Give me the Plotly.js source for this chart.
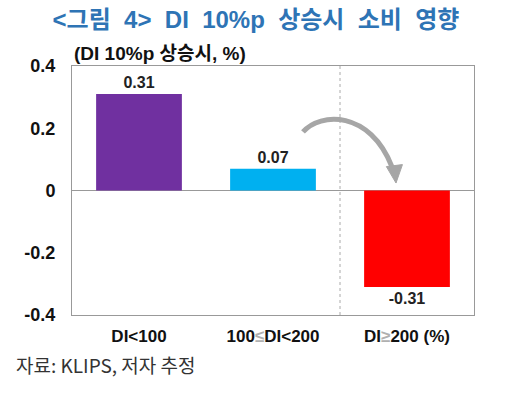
<!DOCTYPE html>
<html>
<head>
<meta charset="utf-8">
<script src="https://cdn.plot.ly/plotly-3.0.1.min.js"></script>
<style>html,body{margin:0;padding:0;background:#fff;}#chart{width:512px;height:393px;}</style>
</head>
<body>
<div id="chart"></div>
<script>
const categories = ['DI&lt;100', '100<span style="color:#b0b0b0">≤</span>DI&lt;200', 'DI<span style="color:#b0b0b0">≥</span>200 (%)'];
const values = [0.31, 0.07, -0.31];
const barColors = ['#7030A0', '#00B0F0', '#FF0000'];
const yTicks = [-0.4, -0.2, 0, 0.2, 0.4];
const yTickLabels = ['-0.4', '-0.2', '0', '0.2', '0.4'];
const valueLabels = values.map(v => (v < 0 ? '-' : '') + Math.abs(v).toFixed(2));

const FONT = 'Arial, "Liberation Sans", "Noto Sans CJK KR", sans-serif';
const KFONT = '"Noto Sans CJK KR", Arial, sans-serif';

const trace = {
  type: 'bar',
  x: categories,
  y: values,
  marker: {color: barColors, line: {width: 0}},
  width: 0.64,
  text: valueLabels,
  texttemplate: '%{text}',
  textposition: 'outside',
  cliponaxis: false,
  textfont: {family: FONT, size: 16, color: '#222', weight: 'bold'},
  hoverinfo: 'none'
};

const gray = '#A6A6A6';
const sp = '&nbsp;&nbsp;';
const layout = {
  width: 512, height: 393,
  margin: {l: 72, r: 38, t: 66, b: 78},
  paper_bgcolor: '#fff', plot_bgcolor: '#fff',
  showlegend: false,
  bargap: 0.36,
  title: {
    text: '<b>&lt;그림' + sp + '4&gt;' + sp + 'DI' + sp + '10%p' + sp + '상승시' + sp + '소비' + sp + '영향</b>',
    font: {family: FONT, size: 24, color: '#2E74B5'},
    x: 0.5, xanchor: 'center', xref: 'container',
    y: 1 - 20/393, yanchor: 'middle', yref: 'container'
  },
  xaxis: {
    type: 'category',
    range: [-0.5, 2.5],
    showline: true, mirror: true, linecolor: '#999', linewidth: 1,
    showgrid: false, zeroline: false, ticks: '',
    tickfont: {family: FONT, size: 17, color: '#111', weight: 'bold'},
    ticklabelstandoff: 6
  },
  yaxis: {
    range: [-0.4, 0.4],
    tickvals: yTicks, ticktext: yTickLabels,
    showline: true, mirror: true, linecolor: '#999', linewidth: 1,
    showgrid: false, zeroline: true, zerolinecolor: '#999', zerolinewidth: 1,
    ticks: '',
    tickfont: {family: FONT, size: 18, color: '#111', weight: 'bold'},
    ticklabelstandoff: 12
  },
  shapes: [
    {type: 'line', xref: 'x', yref: 'paper', x0: 1.5, x1: 1.5, y0: 0, y1: 1,
     line: {color: '#aaa', width: 1, dash: 'dot'}},
    {type: 'path', xref: 'paper', yref: 'paper',
     path: 'M 0.5746 0.735 C 0.617 0.815 0.741 0.823 0.796 0.595',
     line: {color: gray, width: 5}},
    {type: 'path', xref: 'paper', yref: 'paper',
     path: 'M 0.782 0.596 L 0.822 0.604 L 0.806 0.530 Z',
     fillcolor: gray, line: {color: gray, width: 1}}
  ],
  annotations: [
    {text: '<b>(DI 10%p 상승시, %)</b>', xref: 'paper', yref: 'paper',
     x: 0, y: (315-53)/249, xanchor: 'left', yanchor: 'middle', showarrow: false,
     font: {family: FONT, size: 19, color: '#111'}},
    {text: '자료: KLIPS, 저자 추정', xref: 'paper', yref: 'paper',
     x: (14-72)/402, y: (315-364)/249, xanchor: 'left', yanchor: 'middle', showarrow: false,
     font: {family: KFONT, size: 19, color: '#333'}}
  ]
};

Plotly.newPlot('chart', [trace], layout, {displayModeBar: false, staticPlot: true});
</script>
</body>
</html>
